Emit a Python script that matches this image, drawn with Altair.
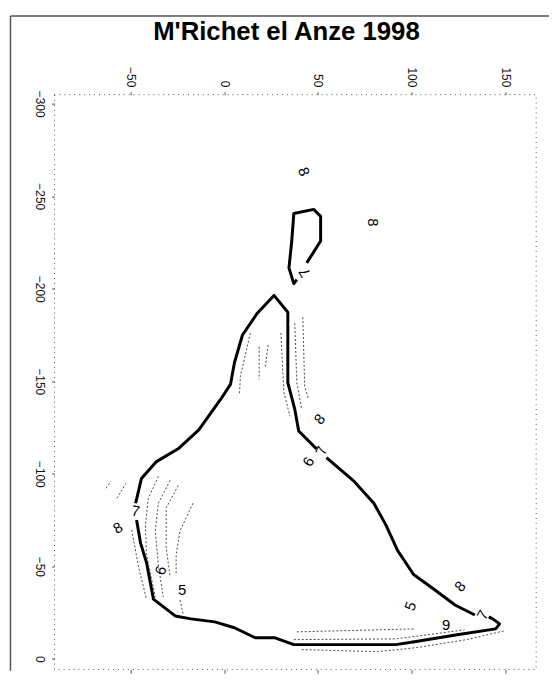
import altair as alt
import pandas as pd

TITLE = "M'Richet el Anze 1998"
X_TICKS = [-50, 0, 50, 100, 150]
Y_TICKS = [-300, -250, -200, -150, -100, -50, 0]
X_DOMAIN = [-114.25, 173.35]
Y_DOMAIN = [-347.6, 6.2]
# extent of the map's dotted neat-line frame, in map units
FRAME_X = [-90.5, 166.5]
FRAME_Y = [-304.9, 5.7]

# thick level-7 contour, broken where the "7" labels sit
seg_a_x = [49.3, 39.8, 37.7, 34.0, 34.0, 26.6, 17.7, 9.8, 5.5, 3.4, -1.8, -13.5, -24.5, -36.1, -44.1, -47.2]
seg_a_y = [-113.5, -123.1, -134.9, -149.3, -187.3, -196.4, -186.8, -175.0, -160.0, -148.3, -140.3, -123.7, -113.5, -106.6, -97.5, -84.1]
seg_b_x = [-46.7, -44.6, -41.4, -37.7, -26.1, -17.7, -5.0, 5.5, 16.6, 27.2, 37.2, 56.2, 91.6, 101.6, 124.3, 144.9, 147.0, 143.3, 141.2]
seg_b_y = [-75.0, -62.7, -52.1, -32.3, -23.2, -21.6, -20.0, -16.8, -11.4, -11.4, -7.7, -7.7, -7.7, -9.3, -13.0, -16.2, -18.9, -21.6, -22.7]
seg_c_x = [133.8, 123.2, 112.7, 101.1, 92.6, 86.3, 79.9, 69.4, 54.6]
seg_c_y = [-23.7, -29.1, -37.1, -45.6, -58.5, -72.4, -84.1, -95.9, -108.7]
seg_d_x = [44.1, 51.5, 51.5, 47.8, 37.2, 36.1, 34.6, 37.2, 38.8]
seg_d_y = [-214.0, -225.8, -239.1, -242.9, -240.7, -225.8, -211.3, -202.8, -204.9]

# thin dashed contours
t0_x = [-49.3, -45.6, -41.4]
t0_y = [-69.7, -49.4, -32.3]
t1_x = [-35.1, -40.4, -42.0, -41.4, -36.7]
t1_y = [-98.6, -86.8, -72.4, -56.3, -33.4]
t2_x = [-28.8, -35.1, -36.7, -35.1, -32.5]
t2_y = [-96.4, -84.1, -69.2, -51.0, -33.4]
t3_x = [-24.5, -30.9, -30.9, -28.8]
t3_y = [-93.7, -81.5, -60.1, -44.0]
t4_x = [-16.6, -23.5, -25.6, -25.6]
t4_y = [-84.1, -69.2, -56.3, -45.6]
t5_x = [-57.2, -52.4]
t5_y = [-86.8, -94.8]
t6_x = [-63.0, -60.4]
t6_y = [-92.2, -95.9]
a1_x = [37.7, 38.8, 41.4]
a1_y = [-181.4, -149.3, -134.9]
a2_x = [42.0, 43.0, 45.1]
a2_y = [-184.6, -147.2, -140.3]
a3_x = [30.3, 31.9, 35.1]
a3_y = [-176.1, -144.0, -131.2]
a4_x = [14.0, 8.7, 8.2]
a4_y = [-176.1, -152.6, -143.0]
a5_x = [18.7, 18.7]
a5_y = [-168.6, -151.0]
a6_x = [23.5, 21.9]
a6_y = [-169.6, -157.4]
b1_x = [41.4, 81.8, 102.9, 129.3, 149.7]
b1_y = [-5.0, -3.9, -6.1, -10.4, -15.2]
b2_x = [37.2, 91.6, 112.7, 128.3]
b2_y = [-10.4, -10.8, -13.6, -15.7]
b3_x = [38.8, 102.1]
b3_y = [-14.6, -16.2]
b5_x = [-23.5, -21.9]
b5_y = [-31.8, -24.3]

# contour labels
lab_text = ["8", "8", "7", "8", "7", "6", "7", "8", "6", "5", "8", "5", "7", "9"]
lab_x = [42.5, 79.4, 43.0, 50.9, 52.0, 45.1, -47.2, -56.7, -33.8, -22.4, 125.9, 99.5, 138.0, 118.5]
lab_y = [-263.2, -235.9, -208.7, -129.6, -112.5, -106.6, -79.9, -70.8, -47.8, -37.1, -39.2, -28.5, -23.7, -18.4]
lab_angle = [70, 90, 240, 310, 290, 300, 10, 330, 290, 0, 310, 290, 300, 0]


def build(segs):
    rows = []
    for name, xs_, ys_ in segs:
        for i, (a, b) in enumerate(zip(xs_, ys_)):
            rows.append({"seg": name, "o": i, "x": a, "y": b})
    return pd.DataFrame(rows)


thick = build([("a", seg_a_x, seg_a_y), ("b", seg_b_x, seg_b_y),
               ("c", seg_c_x, seg_c_y), ("d", seg_d_x, seg_d_y)])
thin = build([("t0", t0_x, t0_y), ("t1", t1_x, t1_y), ("t2", t2_x, t2_y),
              ("t3", t3_x, t3_y), ("t4", t4_x, t4_y), ("t5", t5_x, t5_y),
              ("t6", t6_x, t6_y), ("a1", a1_x, a1_y), ("a2", a2_x, a2_y),
              ("a3", a3_x, a3_y), ("a4", a4_x, a4_y), ("a5", a5_x, a5_y),
              ("a6", a6_x, a6_y), ("b1", b1_x, b1_y), ("b2", b2_x, b2_y),
              ("b3", b3_x, b3_y), ("b5", b5_x, b5_y)])
labels = pd.DataFrame({"t": lab_text, "x": lab_x, "y": lab_y, "ang": lab_angle})
frame = pd.DataFrame({"x": [FRAME_X[0]], "x2": [FRAME_X[1]],
                      "y": [FRAME_Y[0]], "y2": [FRAME_Y[1]]})

xs = alt.Scale(domain=X_DOMAIN, nice=False, zero=False)
ys = alt.Scale(domain=Y_DOMAIN, nice=False, zero=False, reverse=True)
FONT = "Liberation Sans"

top_axis = alt.Axis(orient="top", offset=-80, values=X_TICKS, labelAngle=90,
                    labelAlign="right", labelBaseline="middle", labelFontSize=12,
                    labelFont=FONT, labelColor="#111", tickSize=3, tickColor="#555",
                    labelPadding=5, domain=False, grid=False, title="")
left_axis = alt.Axis(orient="left", offset=-45, values=Y_TICKS, labelAngle=90,
                     labelAlign="center", labelBaseline="top", labelFontSize=12,
                     labelFont=FONT, labelColor="#111", tickSize=3, tickColor="#555",
                     labelPadding=7, domain=False, grid=False, title="")
outer_top = alt.Axis(orient="top", offset=0, labels=False, ticks=False,
                     grid=False, domainColor="#555", domainWidth=1.5, title="")
outer_left = alt.Axis(orient="left", offset=0, labels=False, ticks=False,
                      grid=False, domainColor="#555", domainWidth=1.5, title="")
bottom_ticks = alt.Axis(orient="bottom", offset=-1, values=X_TICKS, labels=False,
                        domain=False, grid=False, tickSize=4, tickColor="#555",
                        title="")

thick_layer = alt.Chart(thick).mark_line(color="black", strokeWidth=3,
                                         strokeJoin="round").encode(
    x=alt.X("x:Q", scale=xs, axis=top_axis),
    y=alt.Y("y:Q", scale=ys, axis=left_axis),
    detail="seg:N",
    order="o:Q",
)

thin_layer = alt.Chart(thin).mark_line(color="#333", strokeWidth=0.9,
                                       strokeDash=[2, 2]).encode(
    x=alt.X("x:Q", scale=xs, axis=outer_top),
    y=alt.Y("y:Q", scale=ys, axis=outer_left),
    detail="seg:N",
    order="o:Q",
)

frame_layer = alt.Chart(frame).mark_rect(filled=False, color="#555",
                                         strokeWidth=1, strokeDash=[1, 4]).encode(
    x=alt.X("x:Q", scale=xs, axis=bottom_ticks),
    x2="x2:Q",
    y=alt.Y("y:Q", scale=ys, axis=None),
    y2="y2:Q",
)

label_layer = alt.Chart(labels).mark_text(font=FONT, fontSize=15,
                                          color="black").encode(
    x=alt.X("x:Q", scale=xs, axis=None),
    y=alt.Y("y:Q", scale=ys, axis=None),
    text="t:N",
    angle=alt.Angle("ang:Q", scale=None),
)

chart = alt.layer(thick_layer, thin_layer, frame_layer, label_layer).resolve_axis(
    x="independent", y="independent"
).properties(
    width=545,
    height=662,
    padding={"left": 2, "top": 4, "right": 0, "bottom": 0},
    autosize=alt.AutoSizeParams(type="none"),
    background="white",
    title=alt.TitleParams(TITLE, fontSize=26, fontWeight="bold", font=FONT,
                          anchor="middle", frame="group", offset=-31, dy=20,
                          baseline="alphabetic", dx=7, color="#000"),
).configure_view(strokeWidth=0)

chart.save("out.html", embed_options={"renderer": "svg", "actions": False})
